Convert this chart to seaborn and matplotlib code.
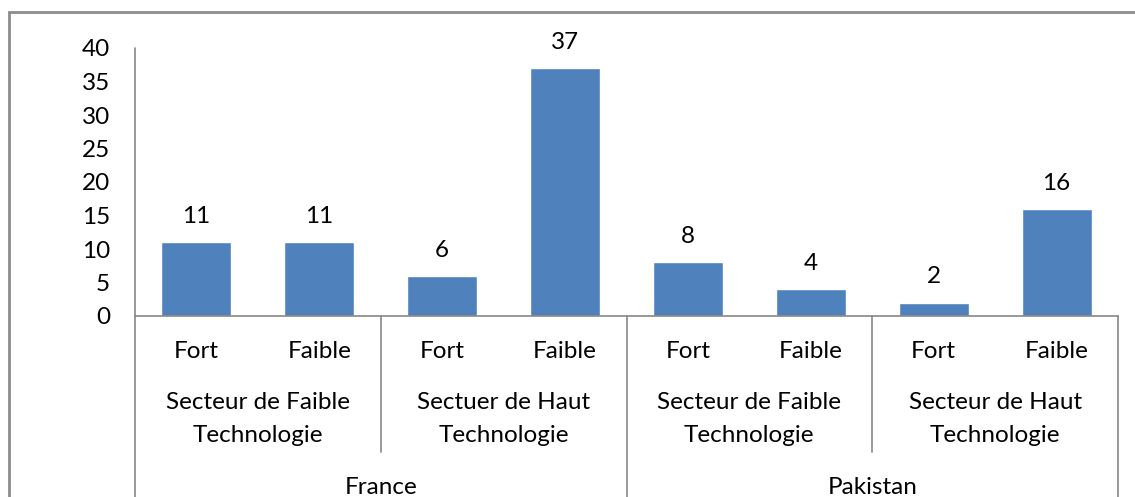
import matplotlib
matplotlib.use("Agg")
import matplotlib.pyplot as plt
import seaborn as sns
import pandas as pd
from matplotlib.patches import Rectangle

# Data
pays = ["France", "Pakistan"]
secteurs = [
    ["Secteur de Faible\nTechnologie", "Sectuer de Haut\nTechnologie"],
    ["Secteur de Faible\nTechnologie", "Secteur de Haut\nTechnologie"],
]
niveaux = ["Fort", "Faible"]
valeurs = [11, 11, 6, 37, 8, 4, 2, 16]
graduations = [0, 5, 10, 15, 20, 25, 30, 35, 40]

rows = []
for i, p in enumerate(pays):
    for j, s in enumerate(secteurs[i]):
        for k, n in enumerate(niveaux):
            rows.append({"cle": f"{p}|{s}|{n}", "pays": p, "secteur": s,
                         "niveau": n})
df = pd.DataFrame(rows)
df["valeur"] = valeurs

sns.set_theme(style="white")
plt.rcParams["font.family"] = ["Lato", "DejaVu Sans"]

W, H = 1135, 497
fig = plt.figure(figsize=(W / 100, H / 100), dpi=100)
fig.patch.set_facecolor("white")

x0, x1, y_top, y_bot = 135, 1118, 48, 316
ax = fig.add_axes([x0 / W, 1 - y_bot / H, (x1 - x0) / W, (y_bot - y_top) / H])

bleu = "#4F81BD"
gris = "#878787"
fs = 17.5

sns.barplot(data=df, x="cle", y="valeur", order=list(df["cle"]),
            color=bleu, saturation=1, width=0.57, ax=ax)
ax.set_xlim(-0.5, len(df) - 0.5)
ax.set_ylim(0, 40)
ax.set_yticks(graduations)
ax.set_yticklabels([str(g) for g in graduations], fontsize=fs, color="#000000")
ax.tick_params(axis="y", length=0, pad=18)
ax.set_xticks([])
ax.set_xlabel("")
ax.set_ylabel("")
for side in ["top", "right", "left"]:
    ax.spines[side].set_visible(False)
ax.spines["bottom"].set_color(gris)
ax.spines["bottom"].set_linewidth(1.2)

# value labels above bars
for i, v in enumerate(df["valeur"]):
    ax.annotate(str(v), (i, v), xytext=(0, 18.5), textcoords="offset points",
                ha="center", va="center", fontsize=fs, color="#000000")

ah = y_bot - y_top


def fy(ypix):
    return (y_bot - ypix) / ah


tr = ax.get_xaxis_transform()

# left axis line running through the category area
ax.plot([-0.5, -0.5], [1, fy(H + 10)], color=gris, lw=1.2, transform=tr,
        clip_on=False)
# separators between groups
for xs, yend in [(1.5, 452), (3.5, H + 10), (5.5, 452), (7.5, H + 10)]:
    ax.plot([xs, xs], [0, fy(yend)], color=gris, lw=1.2, transform=tr,
            clip_on=False)

# hierarchical category labels
for i, row in df.iterrows():
    ax.text(i, fy(351), row["niveau"], ha="center", va="center", fontsize=fs,
            transform=tr, clip_on=False, color="#000000")
for ip, p in enumerate(pays):
    for js, s in enumerate(secteurs[ip]):
        c = ip * 4 + js * 2 + 0.5
        ax.text(c, fy(419), s, ha="center", va="center", fontsize=fs,
                linespacing=1.65, transform=tr, clip_on=False, color="#000000")
    ax.text(ip * 4 + 1.5, fy(487), p, ha="center", va="center", fontsize=fs,
            transform=tr, clip_on=False, color="#000000")

# chart frame
fig.patches.append(Rectangle((9 / W, -0.1), 1.2, 1 - 12 / H + 0.1,
                             transform=fig.transFigure, fill=False,
                             edgecolor="#8C8C8C", lw=2))

fig.savefig("out.png", dpi=100, facecolor="white")
